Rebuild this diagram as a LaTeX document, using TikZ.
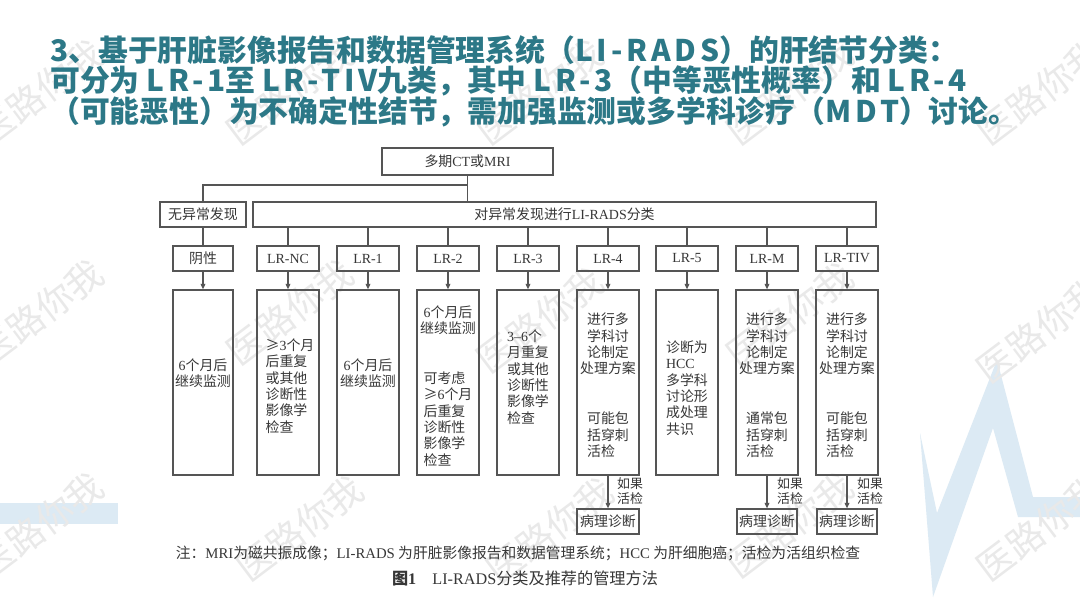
\documentclass[tikz,border=0pt]{standalone}
\usepackage{fontspec}
\setmainfont{Liberation Serif}
\newfontfamily\cjk{Noto Sans CJK SC}
\newfontfamily\cjkspaced[LetterSpace=13]{Noto Sans CJK SC}
\usetikzlibrary{arrows.meta}
\definecolor{titleteal}{RGB}{44,120,135}
\definecolor{boxline}{RGB}{85,85,85}
\definecolor{boxtext}{RGB}{55,55,55}
\definecolor{markgray}{RGB}{233,233,233}
\definecolor{bgblue}{RGB}{220,234,244}
\newcommand\serif[1]{{\rmfamily #1}}
\newcommand\spaced[1]{{\cjkspaced\bfseries #1}}
\begin{document}
\begin{tikzpicture}[x=0.025cm, y=-0.025cm,
            box/.style={draw=boxline, line width=0.85pt, minimum width=1.55cm, minimum height=0.625cm, inner sep=0pt, text=boxtext, font=\cjk\fontsize{9.9}{11.7}\selectfont},
            tallbox/.style={box, minimum height=4.625cm},
            note/.style={text=boxtext, inner sep=0pt, font=\cjk\fontsize{9.9}{11.7}\selectfont},
            small/.style={note, align=left, font=\cjk\fontsize{9.2}{10.6}\selectfont},
            headline/.style={anchor=west, inner sep=0pt, text=titleteal, font=\cjk\bfseries\fontsize{21.2}{22}\selectfont},
            wmark/.style={rotate=37, inner sep=0pt, text=markgray, font=\cjk\fontsize{26}{26}\selectfont},
            link/.style={boxline, line width=0.85pt},
            arrow/.style={link, -{Triangle[length=4pt,width=3.4pt]}}
            ]
            \fill[white] (0,0) rectangle (1080,608);
            \useasboundingbox (0,0) rectangle (1080,608);

            % background shapes and watermarks
            \fill[bgblue] (920,433) -- (933,597) -- (993,428) -- (1018,517) -- (1080,517) -- (1080,497) -- (1033,497) -- (997,360) -- (937,513) -- cycle;
            \fill[bgblue] (0,503) rectangle (118,524);
            \node[wmark] (w11) at (40,92) {医路你我};
            \node[wmark] (w12) at (290,92) {医路你我};
            \node[wmark] (w13) at (540,92) {医路你我};
            \node[wmark] (w14) at (790,92) {医路你我};
            \node[wmark] (w15) at (1040,92) {医路你我};
            \node[wmark] (w21) at (40,312) {医路你我};
            \node[wmark] (w22) at (290,312) {医路你我};
            \node[wmark] (w23) at (540,320) {医路你我};
            \node[wmark] (w24) at (790,315) {医路你我};
            \node[wmark] (w25) at (1040,330) {医路你我};
            \node[wmark] (w31) at (40,525) {医路你我};
            \node[wmark] (w32) at (300,528) {医路你我};
            \node[wmark] (w33) at (550,530) {医路你我};
            \node[wmark] (w34) at (790,525) {医路你我};
            \node[wmark] (w35) at (1040,528) {医路你我};

            % title
            \node[headline] (head1) at (50,50) {3、基于肝脏影像报告和数据管理系统（\spaced{LI-RADS}）的肝结节分类：};
            \node[headline] (head2) at (50,81) {可分为\ \spaced{LR-1}至\ \spaced{LR-TIV}九类，其中\ \spaced{LR-3}（中等恶性概率）和\ \spaced{LR-4}};
            \node[headline] (head3) at (50,112) {（可能恶性）为不确定性结节，需加强监测或多学科诊疗（\spaced{MDT}）讨论。};

            % top levels
            \node[box, minimum width=4.275cm, minimum height=0.675cm] (scan) at (467.5,161.5) {多期\serif{CT}或\serif{MRI}};
            \coordinate (fork) at (467.5,185);
            \node[box, minimum width=2.15cm] (normal) at (203,214.5) {无异常发现};
            \node[box, minimum width=15.575cm] (classify) at (564.5,214.5) {对异常发现进行\serif{LI-RADS}分类};

            \node[box, minimum width=1.5cm] (neg) at (203,258.5) {阴性};
            \node[box] (nc) at (288,258.5) {\serif{LR-NC}};
            \node[box] (lr1) at (368,258.5) {\serif{LR-1}};
            \node[box] (lr2) at (448,258.5) {\serif{LR-2}};
            \node[box] (lr3) at (528,258.5) {\serif{LR-3}};
            \node[box] (lr4) at (608,258.5) {\serif{LR-4}};
            \node[box] (lr5) at (687,258.5) {\serif{LR-5}};
            \node[box] (lrm) at (767,258.5) {\serif{LR-M}};
            \node[box] (tiv) at (847,258.5) {\serif{LR-TIV}};

            % management boxes
            \node[tallbox, minimum width=1.5cm] (negbox) at (203,382.5) {};
            \node[tallbox] (ncbox) at (288,382.5) {};
            \node[tallbox] (lr1box) at (368,382.5) {};
            \node[tallbox] (lr2box) at (448,382.5) {};
            \node[tallbox] (lr3box) at (528,382.5) {};
            \node[tallbox] (lr4box) at (608,382.5) {};
            \node[tallbox] (lr5box) at (687,382.5) {};
            \node[tallbox] (lrmbox) at (767,382.5) {};
            \node[tallbox] (tivbox) at (847,382.5) {};

            \node[note, align=center] (negtxt) at (203,373) {\serif{6}个月后\\继续监测};
            \node[note, align=left] (nctxt) at (290,386) {≥\serif{3}个月\\后重复\\或其他\\诊断性\\影像学\\检查};
            \node[note, align=center] (lr1txt) at (368,373) {\serif{6}个月后\\继续监测};
            \node[note, align=center] (lr2top) at (448,320) {\serif{6}个月后\\继续监测};
            \node[note, align=left] (lr2low) at (448,419) {可考虑\\≥\serif{6}个月\\后重复\\诊断性\\影像学\\检查};
            \node[note, align=left] (lr3txt) at (528,377) {\serif{3–6}个\\月重复\\或其他\\诊断性\\影像学\\检查};
            \node[note, align=center] (lr4top) at (608,344) {进行多\\学科讨\\论制定\\处理方案};
            \node[note, align=left] (lr4low) at (608,435) {可能包\\括穿刺\\活检};
            \node[note, align=left] (lr5txt) at (687,388) {诊断为\\\serif{HCC}\\多学科\\讨论形\\成处理\\共识};
            \node[note, align=center] (lrmtop) at (767,344) {进行多\\学科讨\\论制定\\处理方案};
            \node[note, align=left] (lrmlow) at (767,435) {通常包\\括穿刺\\活检};
            \node[note, align=center] (tivtop) at (847,344) {进行多\\学科讨\\论制定\\处理方案};
            \node[note, align=left] (tivlow) at (847,435) {可能包\\括穿刺\\活检};

            % pathology
            \node[box] (path4) at (608,521.5) {病理诊断};
            \node[box, minimum width=1.5cm] (pathm) at (767,521.5) {病理诊断};
            \node[box, minimum width=1.5cm] (patht) at (847,521.5) {病理诊断};
            \node[small] (if4) at (630,491) {如果\\活检};
            \node[small] (ifm) at (790,491) {如果\\活检};
            \node[small] (ift) at (870,491) {如果\\活检};

            % connectors
            \draw[link] (scan) -- (classify.north -| scan);
            \draw[link] (fork) -| (normal.north);
            \draw[link] (normal) -- (neg);
            \draw[link] (classify.south -| nc) -- (nc);
            \draw[link] (classify.south -| lr1) -- (lr1);
            \draw[link] (classify.south -| lr2) -- (lr2);
            \draw[link] (classify.south -| lr3) -- (lr3);
            \draw[link] (classify.south -| lr4) -- (lr4);
            \draw[link] (classify.south -| lr5) -- (lr5);
            \draw[link] (classify.south -| lrm) -- (lrm);
            \draw[link] (classify.south -| tiv) -- (tiv);

            \draw[arrow] (neg) -- (negbox);
            \draw[arrow] (nc) -- (ncbox);
            \draw[arrow] (lr1) -- (lr1box);
            \draw[arrow] (lr2) -- (lr2box);
            \draw[arrow] (lr3) -- (lr3box);
            \draw[arrow] (lr4) -- (lr4box);
            \draw[arrow] (lr5) -- (lr5box);
            \draw[arrow] (lrm) -- (lrmbox);
            \draw[arrow] (tiv) -- (tivbox);
            \draw[arrow] (lr4box) -- (path4);
            \draw[arrow] (lrmbox) -- (pathm);
            \draw[arrow] (tivbox) -- (patht);

            % note and caption
            \node[note, font=\cjk\fontsize{10.5}{12}\selectfont] (remark) at (518,553) {注：\serif{MRI}为磁共振成像；\serif{LI-RADS} 为肝脏影像报告和数据管理系统；\serif{HCC} 为肝细胞癌；活检为活组织检查};
            \node[note, font=\cjk\fontsize{11.5}{13}\selectfont] (caption) at (525,578) {{\bfseries 图\serif{\bfseries 1}}\quad\serif{LI-RADS}分类及推荐的管理方法};

            \end{tikzpicture}
\end{document}
